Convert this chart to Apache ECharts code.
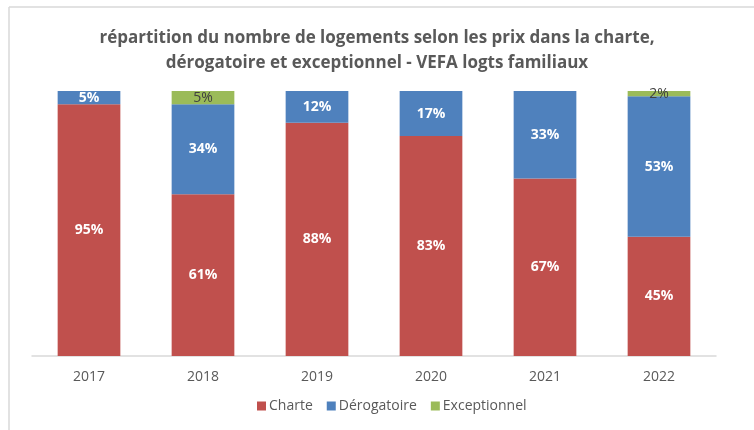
<!DOCTYPE html>
<html lang="fr">
<head>
<meta charset="UTF-8">
<title>VEFA logts familiaux</title>
<script src="https://cdn.jsdelivr.net/npm/echarts@6/dist/echarts.min.js"></script>
<style>
    html, body { margin: 0; padding: 0; background: #fff; }
    #container { width: 754px; height: 430px; }
</style>
</head>
<body>
<div id="container"></div>
<script type="text/javascript">
    // années
    var years = ['2017', '2018', '2019', '2020', '2021', '2022'];
    // parts en %
    var charte = [95, 61, 88, 83, 67, 45];
    var derogatoire = [5, 34, 12, 17, 33, 53];
    var exceptionnel = [0, 5, 0, 0, 0, 2];

    var font = '"Open Sans", "Liberation Sans", sans-serif';
    var myChart = echarts.init(document.getElementById('container'), null, { renderer: 'canvas' });

    function whiteLabel() {
        return {
            show: true,
            position: 'inside',
            formatter: function (p) { return p.value ? p.value + '%' : ''; },
            color: '#fff',
            fontWeight: 'bold',
            fontSize: 14,
            fontFamily: font
        };
    }

    var option = {
        animation: false,
        title: {
            text: 'répartition du nombre de logements selon les prix dans la charte,\ndérogatoire et exceptionnel - VEFA logts familiaux',
            left: 'center',
            top: 21,
            textStyle: {
                color: '#595959',
                fontSize: 17,
                fontWeight: 'bold',
                fontFamily: font,
                lineHeight: 25
            }
        },
        // cadre
        graphic: [
            { type: 'line', shape: { x1: 9, y1: 7, x2: 754, y2: 7 }, style: { stroke: '#d9d9d9', lineWidth: 1.5 } },
            { type: 'line', shape: { x1: 9, y1: 7, x2: 9, y2: 430 }, style: { stroke: '#d9d9d9', lineWidth: 1.5 } }
        ],
        legend: {
            bottom: 12,
            left: 252,
            itemWidth: 9,
            itemHeight: 9,
            itemGap: 14,
            icon: 'rect',
            textStyle: { color: '#595959', fontSize: 14, fontFamily: font, padding: [0, 0, 0, -2] },
            data: ['Charte', 'Dérogatoire', 'Exceptionnel']
        },
        grid: { left: 32, right: 38, top: 91, bottom: 74 },
        xAxis: {
            type: 'category',
            data: years,
            axisLine: { lineStyle: { color: '#d9d9d9', width: 1.5 } },
            axisTick: { show: false },
            axisLabel: { color: '#595959', fontSize: 14, fontFamily: font, margin: 14 }
        },
        yAxis: {
            type: 'value',
            min: 0,
            max: 100,
            show: false
        },
        series: [
            {
                name: 'Charte',
                type: 'bar',
                stack: 'total',
                barWidth: '55%',
                data: charte,
                itemStyle: { color: '#c0504d' },
                label: whiteLabel()
            },
            {
                name: 'Dérogatoire',
                type: 'bar',
                stack: 'total',
                data: derogatoire,
                itemStyle: { color: '#4f81bd' },
                label: whiteLabel()
            },
            {
                name: 'Exceptionnel',
                type: 'bar',
                stack: 'total',
                data: exceptionnel,
                itemStyle: { color: '#9bbb59' },
                label: {
                    show: true,
                    position: 'inside',
                    formatter: function (p) { return p.value ? p.value + '%' : ''; },
                    color: '#404040',
                    fontSize: 14,
                    fontFamily: font
                }
            }
        ]
    };
    myChart.setOption(option);
    window.addEventListener('resize', myChart.resize);
</script>
</body>
</html>
